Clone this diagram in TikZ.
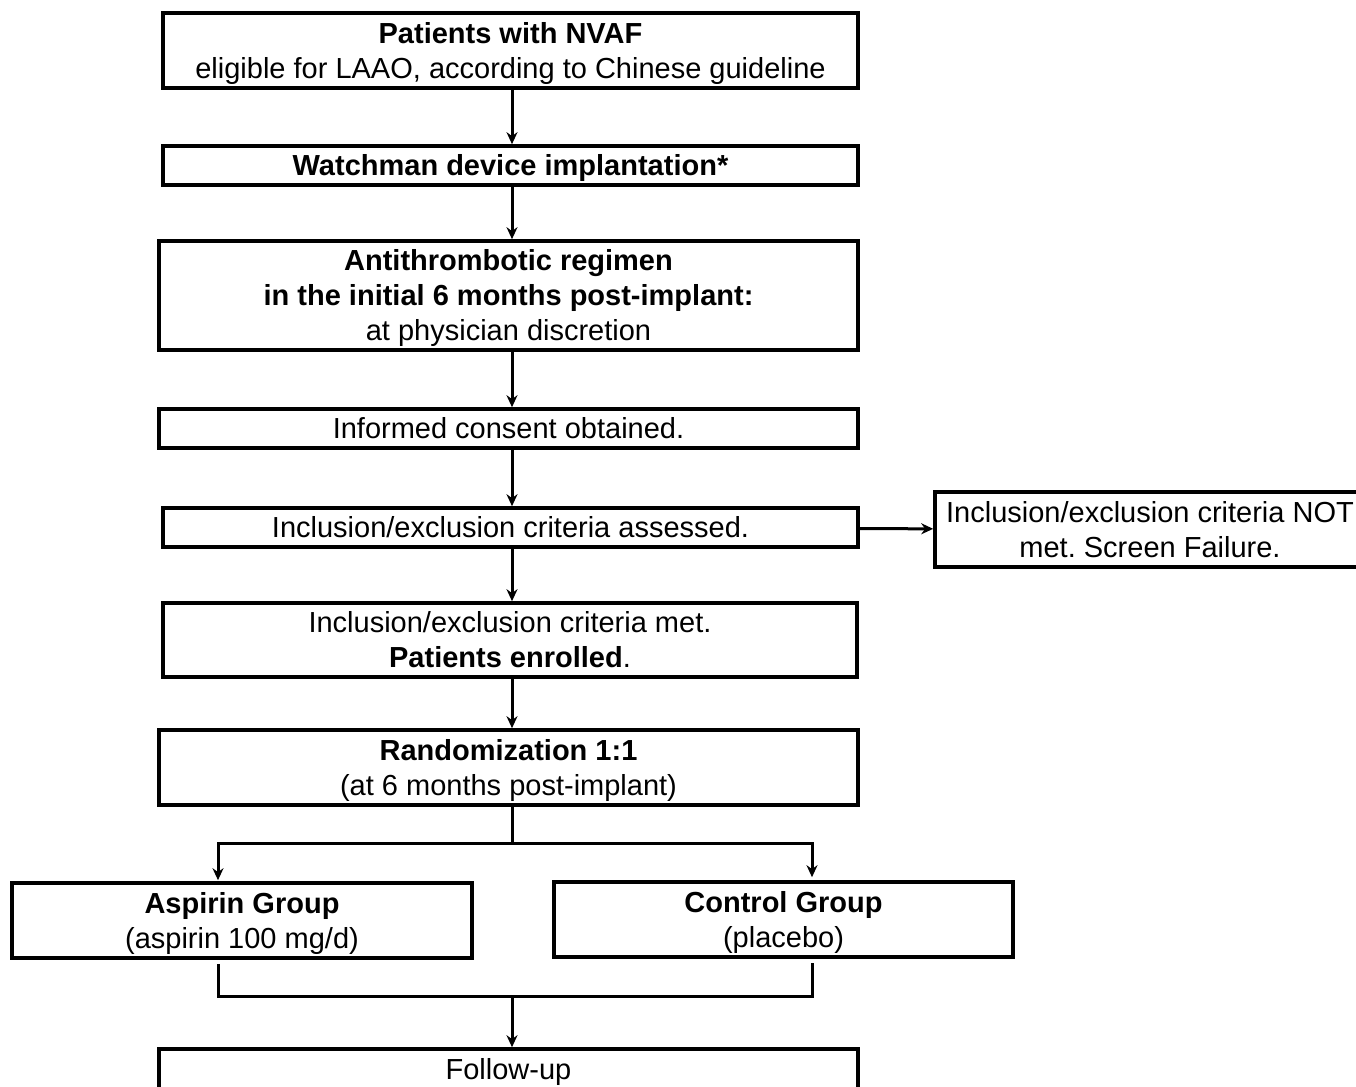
\documentclass[tikz,border=0pt]{standalone}
\usepackage{fontspec}
\setmainfont{Liberation Sans}
\usetikzlibrary{arrows.meta}

\begin{document}
\frenchspacing
\begin{tikzpicture}[x=1pt,y=-1pt,->,>={Stealth[length=12pt,width=11pt]},line width=3pt,
                    every node/.style={font=\fontsize{29}{35}\selectfont}]
  \tikzset{box/.style={draw,line width=3.6pt,align=center,inner sep=0pt,text depth=1pt}}
  \clip (0,0) rectangle (1356,1086);

  \node[box,minimum width=695,minimum height=75] (nvaf) at (510.5,50.5)
       {\textbf{Patients with NVAF}\\eligible for LAAO, according to Chinese guideline};
  \node[box,minimum width=695,minimum height=39] (implant) at (510.5,165.5)
       {\textbf{Watchman device implantation*}};
  \node[box,minimum width=699,minimum height=109] (regimen) at (508.5,295.5)
       {\textbf{Antithrombotic regimen}\\\textbf{in the initial 6 months post-implant:}\\at physician discretion};
  \node[box,minimum width=699,minimum height=39] (consent) at (508.5,428.5)
       {Informed consent obtained.};
  \node[box,minimum width=695,minimum height=39] (criteria) at (510.5,527.5)
       {Inclusion/exclusion criteria assessed.};
  \node[box,minimum width=430,minimum height=75] (fail) at (1150,529.5)
       {Inclusion/exclusion criteria NOT\\met. Screen Failure.};
  \node[box,minimum width=694,minimum height=74] (enrolled) at (510,640)
       {Inclusion/exclusion criteria met.\\\textbf{Patients enrolled}.};
  \node[box,minimum width=699,minimum height=75] (random) at (508.5,767.5)
       {\textbf{Randomization 1:1}\\(at 6 months post-implant)};
  \node[box,minimum width=460,minimum height=75] (aspirin) at (242,920.5)
       {\textbf{Aspirin Group}\\(aspirin 100 mg/d)};
  \node[box,minimum width=459,minimum height=75] (control) at (783.5,919.5)
       {\textbf{Control Group}\\(placebo)};
  \node[box,minimum width=699,minimum height=75] (followup) at (508.5,1086.5)
       {Follow-up\\\strut};

  % vertical axis, branch points
  \coordinate (axis) at (512,0);
  \coordinate (split) at (512,843);
  \coordinate (join) at (512,996);
  \coordinate (left) at (218,0);
  \coordinate (right) at (812,0);

  \draw (nvaf.south -| axis) -- (implant.north -| axis);
  \draw (implant.south -| axis) -- (regimen.north -| axis);
  \draw (regimen.south -| axis) -- (consent.north -| axis);
  \draw (consent.south -| axis) -- (criteria.north -| axis);
  \draw (criteria.south -| axis) -- (enrolled.north -| axis);
  \draw (criteria) -- (fail);
  \draw (enrolled.south -| axis) -- (random.north -| axis);
  \draw[-] (random.south -| axis) -- (split);
  \draw (split) -| ([yshift=1pt]aspirin.north -| left);
  \draw (split) -| ([yshift=3pt]control.north -| right);
  \draw[-] ([yshift=-4pt]aspirin.south -| left) |- (join) -| ([yshift=-4pt]control.south -| right);
  \draw (join) -- (followup.north -| join);
\end{tikzpicture}
\end{document}
